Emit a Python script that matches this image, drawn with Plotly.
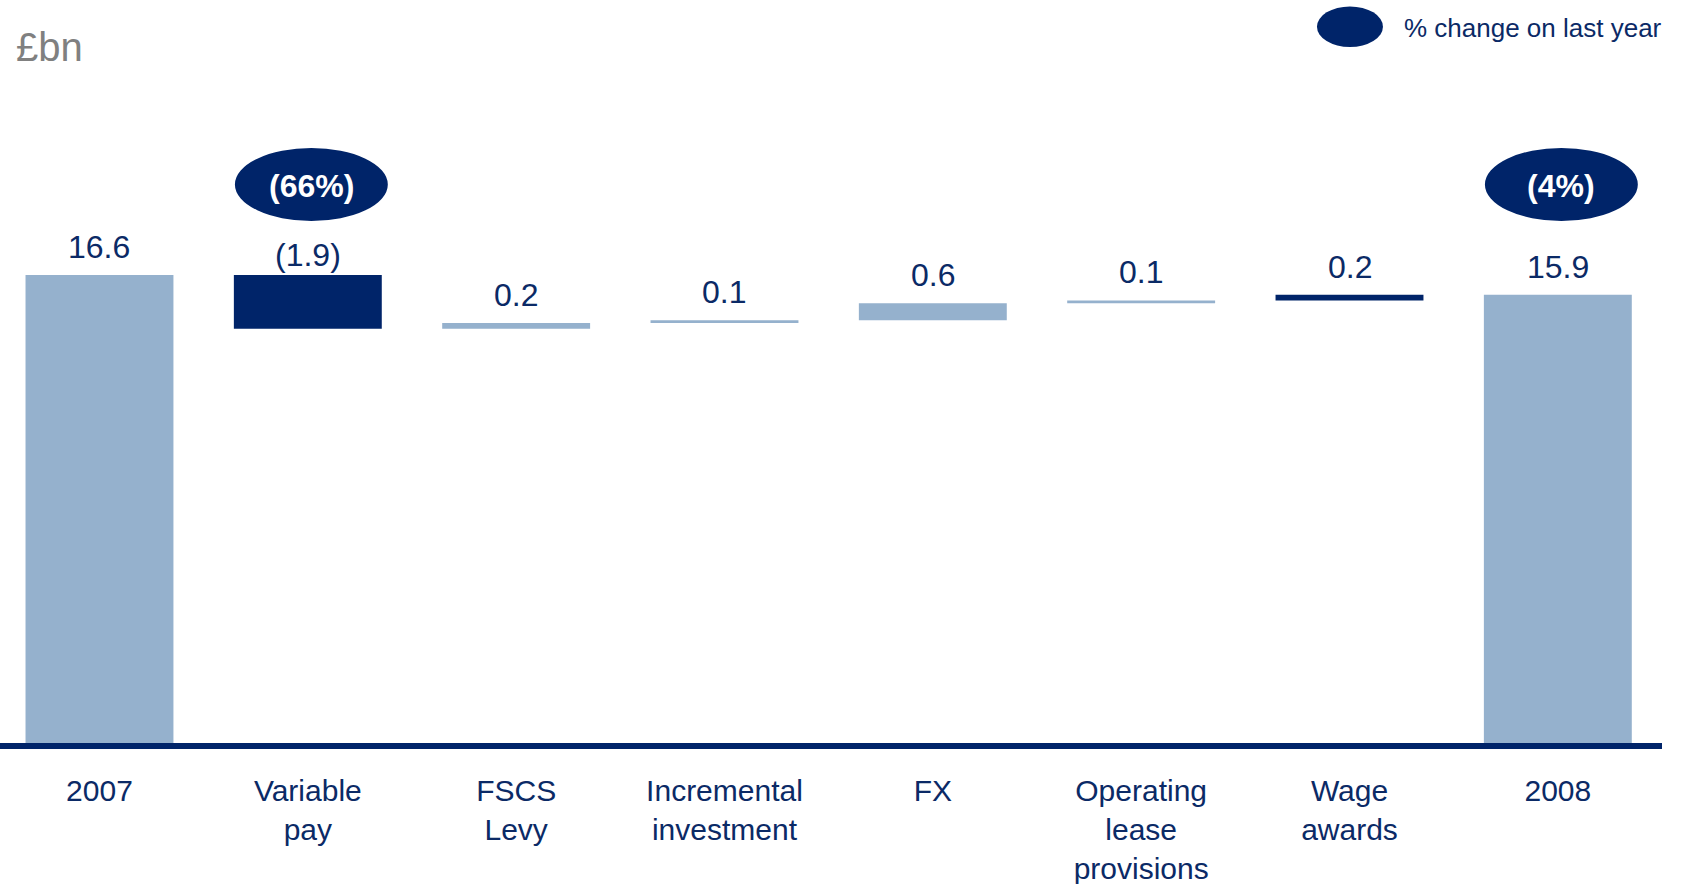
import plotly.graph_objects as go

# Staff costs bridge, 2007 -> 2008 (£bn)
categories = ["2007", "Variable<br>pay", "FSCS<br>Levy", "Incremental<br>investment",
              "FX", "Operating<br>lease<br>provisions", "Wage<br>awards", "2008"]
measures = ["absolute", "relative", "relative", "relative", "relative", "relative", "relative", "total"]
values = [16.6, -1.9, 0.2, 0.1, 0.6, 0.1, 0.2, 15.9]
value_labels = ["16.6", "(1.9)", "0.2", "0.1", "0.6", "0.1", "0.2", "15.9"]
bar_colors = ["#95b1cd", "#002469", "#95b1cd", "#95b1cd", "#95b1cd", "#95b1cd", "#002469", "#95b1cd"]
pct_change = {1: "(66%)", 7: "(4%)"}

NAVY = "#002469"
TEXT = "#0b2a66"
FONT = "Arial, Liberation Sans, sans-serif"

# bases and heights for each floating bar
bases, heights, tops = [], [], []
running = 0.0
for m, v in zip(measures, values):
    if m == "absolute":
        base, h = 0.0, v
        running = v
    elif m == "total":
        base, h = 0.0, v
    else:
        start = running
        running = round(running + v, 4)
        base, h = min(start, running), abs(v)
    bases.append(base)
    heights.append(h)
    tops.append(base + h)

x_idx = list(range(len(categories)))

fig = go.Figure()
fig.add_trace(go.Bar(
    x=x_idx, y=heights, base=bases,
    marker=dict(color=bar_colors, line=dict(width=0)),
    width=0.71, hoverinfo="skip", showlegend=False,
))

annotations = []
for i, (lbl, v) in enumerate(zip(value_labels, values)):
    annotations.append(dict(
        x=i, y=tops[i], xref="x", yref="y", text=lbl, showarrow=False,
        yanchor="middle", yshift=20 if v < 0 and measures[i] == "relative" else 28,
        font=dict(family=FONT, size=32, color=TEXT),
    ))

shapes = []
for i, txt in pct_change.items():
    shapes.append(dict(type="circle", xref="x", yref="y",
                       x0=i - 0.35, x1=i + 0.384, y0=18.52, y1=21.11,
                       fillcolor=NAVY, line=dict(width=0), layer="above"))
    annotations.append(dict(x=i + 0.017, y=19.815, xref="x", yref="y", text=f"<b>{txt}</b>",
                            showarrow=False, yanchor="middle", yshift=-2,
                            font=dict(family=FONT, size=32, color="white")))

# legend key
shapes.append(dict(type="circle", xref="paper", yref="paper",
                   x0=0.7924, x1=0.8321, y0=0.9367, y1=0.9914,
                   fillcolor=NAVY, line=dict(width=0)))
annotations.append(dict(x=0.8436, y=0.9623, xref="paper", yref="paper", xanchor="left",
                        yanchor="middle", text="% change on last year", showarrow=False,
                        font=dict(family=FONT, size=26, color=TEXT)))
annotations.append(dict(x=0.0084, y=0.9367, xref="paper", yref="paper", xanchor="left",
                        yanchor="middle", text="£bn", showarrow=False,
                        font=dict(family=FONT, size=40, color="#808080")))

fig.update_layout(
    width=1684, height=884,
    margin=dict(l=0, r=22, t=0, b=141),
    paper_bgcolor="white", plot_bgcolor="white",
    bargap=0.29,
    shapes=shapes, annotations=annotations,
    hovermode=False,
    xaxis=dict(range=[-0.4775, 7.5], tickvals=x_idx, ticktext=categories,
               showline=True, linecolor=NAVY, linewidth=6, showgrid=False,
               zeroline=False, ticks="", ticklabelstandoff=16, automargin=False,
               tickfont=dict(family=FONT, size=30, color=TEXT)),
    yaxis=dict(range=[0, 26.36], visible=False, showgrid=False, zeroline=False,
               automargin=False),
)

fig.write_html("out.html")
